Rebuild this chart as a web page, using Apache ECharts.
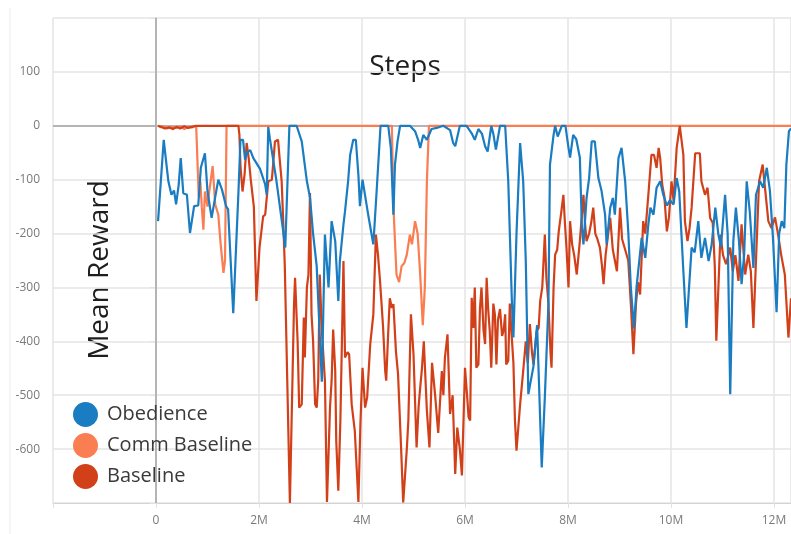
<!DOCTYPE html>
<html>
<head>
<meta charset="utf-8">
<script src="https://cdn.jsdelivr.net/npm/echarts@6/dist/echarts.min.js"></script>
<style>
html,body{margin:0;padding:0;background:#fff;}
#chart{width:791px;height:534px;}
</style>
</head>
<body>
<div id="chart"></div>
<script>
// x in millions of steps, y = mean reward
const seriesNames = ['Obedience', 'Comm Baseline', 'Baseline'];
const yTicks = [-600, -500, -400, -300, -200, -100, 0, 100];
const xTicks = [0, 2, 4, 6, 8, 10, 12];

const obedience = [[0.04,-177],[0.15,-26],[0.24,-103],[0.30,-128],[0.35,-120],[0.39,-146],[0.44,-110],[0.48,-60],[0.53,-125],[0.60,-128],[0.66,-199],[0.74,-149],[0.82,-148],[0.87,-78],[0.95,-51],[1.00,-122],[1.08,-171],[1.13,-143],[1.21,-100],[1.28,-118],[1.36,-149],[1.40,-155],[1.50,-348],[1.60,-125],[1.64,-26],[1.69,-26],[1.73,-63],[1.77,-50],[1.83,-45],[1.89,-60],[2.02,-80],[2.12,-109],[2.15,-128],[2.18,-2],[2.21,-23],[2.34,-103],[2.47,-196],[2.51,-226],[2.59,0],[2.73,0],[2.83,-29],[2.93,-103],[2.99,-133],[3.05,-200],[3.12,-260],[3.22,-475],[3.28,-202],[3.35,-300],[3.41,-177],[3.48,-214],[3.54,-325],[3.57,-251],[3.64,-183],[3.67,-159],[3.73,-103],[3.77,-54],[3.83,-26],[3.88,-26],[3.93,-91],[3.96,-149],[4.01,-100],[4.12,-165],[4.22,-220],[4.28,-128],[4.36,0],[4.51,0],[4.56,-41],[4.61,-165],[4.64,-72],[4.69,-29],[4.74,0],[4.93,0],[5.03,-10],[5.09,-26],[5.13,-41],[5.19,-17],[5.26,-26],[5.35,-6],[5.45,-4],[5.58,0],[5.71,-8],[5.77,-32],[5.81,-38],[5.90,0],[6.03,0],[6.13,-14],[6.19,-26],[6.26,-6],[6.33,-15],[6.39,-38],[6.44,-48],[6.51,0],[6.55,-15],[6.60,-44],[6.68,0],[6.78,0],[6.84,-103],[6.91,-325],[6.94,-393],[7.00,-200],[7.07,-32],[7.13,-103],[7.18,-250],[7.23,-498],[7.33,-446],[7.40,-370],[7.49,-634],[7.55,-504],[7.62,-331],[7.65,-72],[7.72,-17],[7.75,0],[7.80,-20],[7.88,0],[7.95,0],[8.01,-41],[8.04,-59],[8.10,-17],[8.16,-25],[8.23,-59],[8.27,-190],[8.30,-220],[8.36,-134],[8.41,-97],[8.46,-29],[8.52,-29],[8.59,-97],[8.65,-120],[8.72,-165],[8.75,-220],[8.82,-152],[8.87,-134],[8.91,-165],[8.98,-60],[9.04,-41],[9.11,-103],[9.17,-196],[9.22,-300],[9.28,-376],[9.33,-300],[9.43,-208],[9.50,-245],[9.56,-183],[9.60,-152],[9.66,-165],[9.72,-115],[9.79,-103],[9.85,-128],[9.92,-148],[9.98,-138],[10.05,-146],[10.11,-97],[10.16,-122],[10.24,-270],[10.30,-375],[10.40,-226],[10.46,-235],[10.53,-177],[10.59,-245],[10.66,-208],[10.73,-251],[10.79,-220],[10.86,-152],[10.92,-202],[10.97,-225],[11.05,-128],[11.10,-200],[11.15,-498],[11.21,-214],[11.26,-152],[11.32,-214],[11.37,-294],[11.42,-240],[11.47,-103],[11.53,-160],[11.60,-264],[11.65,-128],[11.73,-103],[11.79,-115],[11.86,-78],[11.92,-120],[11.98,-208],[12.05,-346],[12.10,-200],[12.15,-177],[12.20,-190],[12.24,-72],[12.29,-10],[12.33,-5]];

const commBaseline = [[0.04,0],[0.10,-3],[0.15,-1],[0.22,-5],[0.30,-2],[0.40,-4],[0.48,-1],[0.55,-6],[0.62,-2],[0.70,-3],[0.78,0],[0.81,0],[0.83,-131],[0.86,-103],[0.89,-152],[0.92,-193],[0.95,-122],[1.00,-150],[1.03,-125],[1.10,-75],[1.15,-146],[1.21,-165],[1.25,-214],[1.31,-273],[1.34,-250],[1.37,0],[4.58,0],[4.61,-150],[4.67,-276],[4.72,-290],[4.77,-260],[4.82,-255],[4.87,-239],[4.93,-202],[4.97,-220],[5.03,-177],[5.08,-200],[5.13,-276],[5.18,-370],[5.22,-300],[5.26,-103],[5.30,0],[12.35,0]];

const baseline = [[0.04,0],[0.10,-2],[0.17,-5],[0.25,-3],[0.33,-6],[0.40,-2],[0.47,-5],[0.55,-1],[0.62,-4],[0.70,-2],[0.78,0],[1.60,0],[1.62,-17],[1.64,-75],[1.68,-122],[1.70,-125],[1.72,-90],[1.76,-32],[1.80,-60],[1.84,-100],[1.90,-150],[1.95,-325],[2.01,-226],[2.08,-168],[2.12,-165],[2.18,-103],[2.25,-100],[2.31,-29],[2.37,-26],[2.40,-60],[2.44,-103],[2.47,-177],[2.50,-257],[2.60,-700],[2.68,-331],[2.70,-282],[2.75,-400],[2.78,-523],[2.83,-517],[2.87,-356],[2.89,-430],[2.93,-300],[2.96,-276],[2.99,-125],[3.02,-350],[3.05,-399],[3.09,-517],[3.12,-523],[3.15,-473],[3.18,-276],[3.22,-380],[3.28,-473],[3.32,-698],[3.38,-520],[3.41,-473],[3.44,-378],[3.48,-455],[3.50,-585],[3.54,-677],[3.58,-547],[3.61,-400],[3.64,-251],[3.67,-430],[3.72,-420],[3.75,-424],[3.80,-517],[3.86,-566],[3.93,-698],[3.97,-550],[4.01,-449],[4.06,-523],[4.10,-504],[4.16,-405],[4.22,-350],[4.27,-202],[4.31,-239],[4.35,-288],[4.38,-331],[4.41,-375],[4.45,-455],[4.47,-473],[4.51,-381],[4.54,-320],[4.58,-338],[4.61,-331],[4.66,-420],[4.70,-461],[4.76,-600],[4.80,-699],[4.83,-696],[4.87,-600],[4.90,-547],[4.95,-350],[5.00,-424],[5.06,-597],[5.10,-520],[5.13,-486],[5.16,-455],[5.20,-400],[5.26,-529],[5.31,-597],[5.36,-440],[5.42,-500],[5.48,-570],[5.55,-455],[5.58,-500],[5.61,-430],[5.66,-387],[5.71,-535],[5.76,-500],[5.81,-646],[5.85,-560],[5.90,-600],[5.94,-649],[6.00,-449],[6.04,-500],[6.07,-541],[6.10,-547],[6.13,-319],[6.16,-375],[6.19,-300],[6.22,-449],[6.26,-443],[6.29,-340],[6.32,-300],[6.36,-380],[6.39,-405],[6.42,-282],[6.45,-340],[6.48,-380],[6.51,-449],[6.55,-330],[6.58,-350],[6.61,-443],[6.64,-360],[6.68,-340],[6.72,-390],[6.75,-380],[6.78,-350],[6.80,-443],[6.84,-436],[6.87,-330],[6.90,-380],[6.94,-440],[6.97,-547],[7.00,-603],[7.07,-517],[7.13,-455],[7.18,-400],[7.22,-440],[7.26,-368],[7.30,-420],[7.33,-443],[7.39,-381],[7.43,-375],[7.46,-325],[7.50,-300],[7.55,-202],[7.58,-282],[7.62,-330],[7.66,-420],[7.68,-449],[7.72,-300],[7.75,-239],[7.79,-230],[7.82,-196],[7.87,-160],[7.91,-128],[7.94,-180],[7.97,-226],[8.01,-300],[8.04,-177],[8.08,-220],[8.12,-240],[8.17,-276],[8.23,-214],[8.30,-128],[8.33,-180],[8.36,-214],[8.41,-200],[8.45,-180],[8.49,-152],[8.53,-200],[8.57,-210],[8.62,-226],[8.66,-260],[8.69,-294],[8.73,-240],[8.78,-200],[8.82,-171],[8.87,-230],[8.91,-250],[8.95,-270],[9.01,-152],[9.05,-210],[9.11,-230],[9.17,-250],[9.22,-330],[9.27,-424],[9.32,-330],[9.36,-290],[9.40,-313],[9.46,-177],[9.50,-200],[9.56,-128],[9.62,-54],[9.67,-54],[9.72,-78],[9.76,-41],[9.79,-60],[9.83,-110],[9.87,-130],[9.92,-196],[9.96,-170],[10.01,-103],[10.05,-140],[10.11,-41],[10.17,0],[10.24,-54],[10.27,-177],[10.32,-214],[10.36,-190],[10.40,-152],[10.47,-51],[10.56,-51],[10.59,-103],[10.66,-128],[10.71,-115],[10.76,-171],[10.81,-180],[10.85,-260],[10.88,-399],[10.92,-300],[10.96,-202],[11.01,-240],[11.07,-257],[11.15,-226],[11.20,-270],[11.25,-240],[11.31,-288],[11.37,-183],[11.44,-276],[11.50,-239],[11.55,-270],[11.60,-375],[11.65,-250],[11.71,-103],[11.78,-72],[11.83,-120],[11.89,-177],[11.95,-190],[12.02,-170],[12.08,-202],[12.14,-240],[12.21,-276],[12.28,-393],[12.33,-320]];

const colors = { 'Obedience': '#1a7cc1', 'Comm Baseline': '#fb7d52', 'Baseline': '#d2401a' };
const FONT = '"Open Sans", "DejaVu Sans", sans-serif';

const chart = echarts.init(document.getElementById('chart'), null, { renderer: 'canvas' });

function lineSeries(name, data, z) {
  return {
    name: name, type: 'line', data: data, showSymbol: false, symbol: 'circle',
    z: z, animation: false,
    lineStyle: { color: colors[name], width: 2.2 },
    itemStyle: { color: colors[name] }
  };
}

chart.setOption({
  backgroundColor: '#ffffff',
  animation: false,
  grid: { left: 53, right: 0, top: 18, bottom: 31, containLabel: false },
  xAxis: {
    type: 'value', min: -2, max: 12.33, interval: 2,
    axisLine: { show: true, onZero: false, lineStyle: { color: '#d4d4d4', width: 1 } },
    axisTick: { show: true, length: 5, lineStyle: { color: '#e2e2e2' } },
    axisLabel: {
      color: '#7a7a7a', fontSize: 12, fontFamily: FONT, margin: 12,
      formatter: function (v) { if (v < 0) return ''; return v === 0 ? '0' : v + 'M'; }
    },
    splitLine: { show: true, lineStyle: { color: '#e4e4e4', width: 1.5 } }
  },
  yAxis: {
    type: 'value', min: -700, max: 200, interval: 100,
    axisLine: { show: true, lineStyle: { color: '#c4c4c4', width: 1.5 } },
    axisTick: { show: true, length: 6, lineStyle: { color: '#e2e2e2' } },
    axisLabel: {
      color: '#7a7a7a', fontSize: 12, fontFamily: FONT, margin: 13,
      formatter: function (v) { return yTicks.indexOf(v) >= 0 ? String(v) : ''; }
    },
    splitLine: { show: true, lineStyle: { color: '#e4e4e4', width: 1.5 } }
  },
  legend: {
    data: seriesNames, orient: 'vertical', left: 68, top: 397,
    icon: 'circle', itemWidth: 25, itemHeight: 25, itemGap: 6,
    textStyle: { fontSize: 20, fontFamily: FONT, color: '#3a3a3a', padding: [0, 0, 0, 4] },
    selectedMode: false
  },
  graphic: [
    { type: 'line', silent: true, shape: { x1: 10, y1: 8, x2: 10, y2: 534 }, style: { stroke: '#ececec', lineWidth: 1 } },
    { type: 'text', x: 405, y: 67, silent: true,
      style: { text: 'Steps', fontSize: 28, fontFamily: FONT, fill: '#1e1e1e', align: 'center', verticalAlign: 'middle' } },
    { type: 'text', x: 100, y: 270, rotation: Math.PI / 2, silent: true,
      style: { text: 'Mean Reward', fontSize: 28, fontFamily: FONT, fill: '#1e1e1e', align: 'center', verticalAlign: 'middle' } }
  ],
  series: [
    {
      name: '_zero', type: 'line', data: [], z: 1, silent: true,
      markLine: {
        silent: true, symbol: 'none', animation: false, z: 1,
        label: { show: false },
        lineStyle: { color: '#b4b4b4', width: 2, type: 'solid' },
        data: [{ yAxis: 0 }, { xAxis: 0 }]
      }
    },
    lineSeries('Comm Baseline', commBaseline, 2),
    lineSeries('Baseline', baseline, 3),
    lineSeries('Obedience', obedience, 4)
  ]
});
</script>
</body>
</html>
